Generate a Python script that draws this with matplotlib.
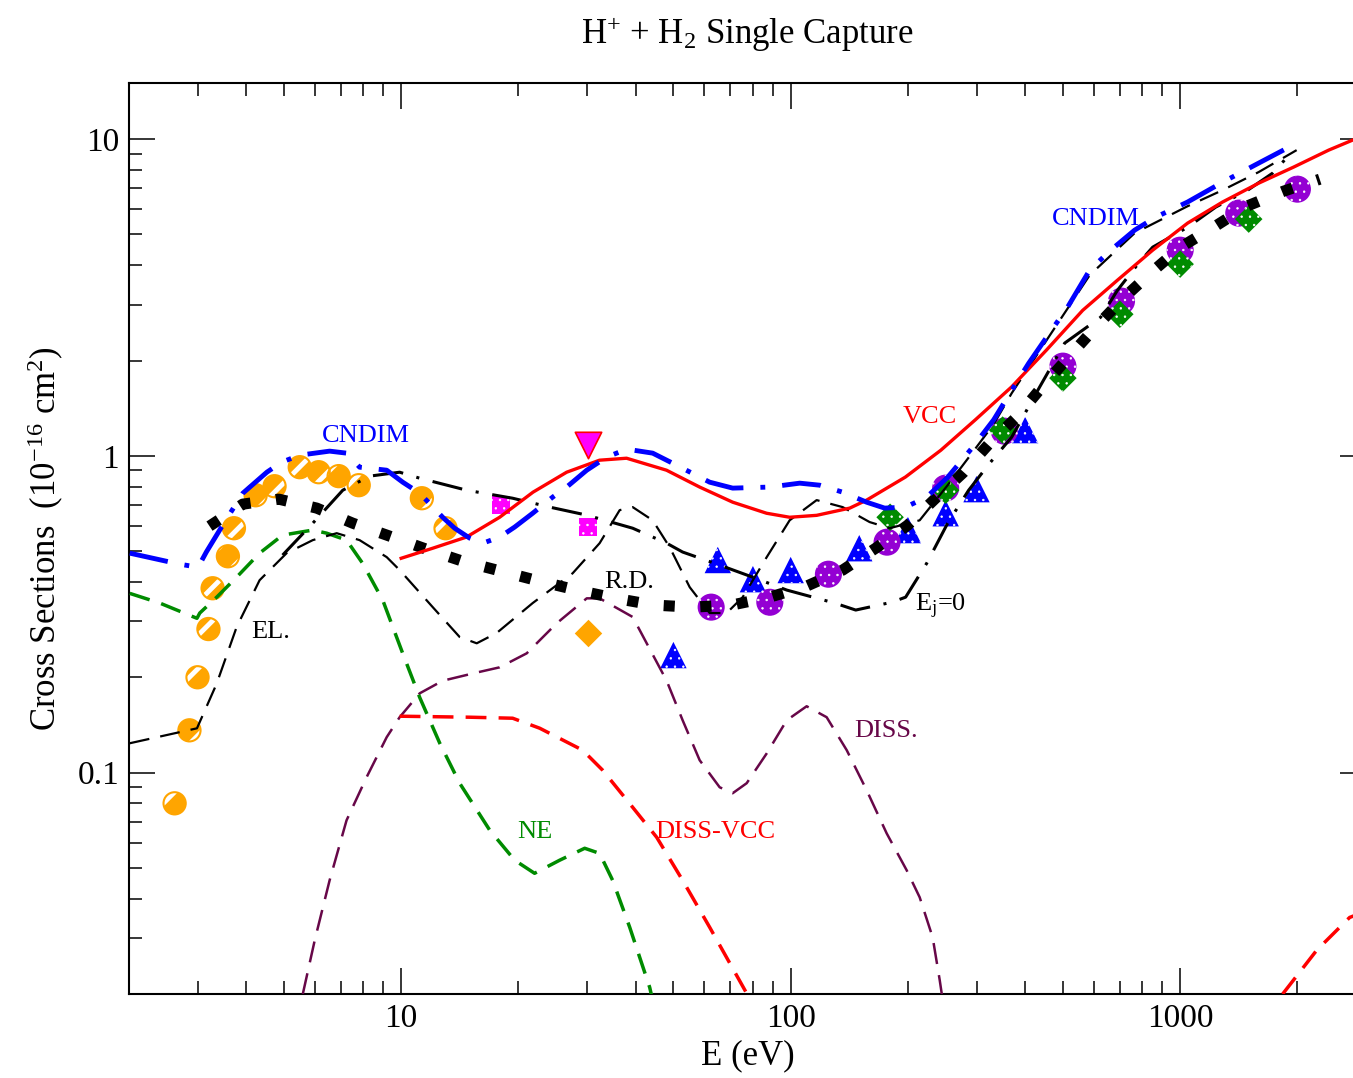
import matplotlib.pyplot as plt
from matplotlib.ticker import LogLocator, NullFormatter

plt.rcParams['font.family'] = ['Liberation Serif', 'DejaVu Serif']
plt.rcParams['mathtext.fontset'] = 'custom'
plt.rcParams['mathtext.rm'] = 'Liberation Serif'
plt.rcParams['mathtext.it'] = 'Liberation Serif:italic'
plt.rcParams['mathtext.bf'] = 'Liberation Serif:bold'

# --- theory curves (E in eV, sigma in 1e-16 cm^2) ---
vcc_E = [10.0, 12.05, 14.7, 17.9, 21.8, 26.6, 32.3, 37.9, 48.0, 58.4, 71.0, 86.7,
         99.4, 116.6, 141.8, 156.7, 197, 243, 298, 369, 454, 562, 691, 850, 1045,
         1285, 1591, 1956, 2406, 2773]
vcc_s = [0.475, 0.511, 0.554, 0.640, 0.768, 0.888, 0.969, 0.983, 0.901, 0.797, 0.714,
         0.659, 0.640, 0.649, 0.684, 0.725, 0.857, 1.042, 1.30, 1.65, 2.16, 2.88, 3.59,
         4.46, 5.43, 6.33, 7.26, 8.16, 9.23, 9.93]

cndim_E = [2.01, 2.70, 3.01, 3.16, 3.48, 3.92, 4.52, 4.93, 5.49, 6.55, 7.24, 7.82, 9.18,
           10.09, 11.16, 12.78, 13.72, 14.99, 16.19, 17.9, 19.56, 21.76, 24.49, 26.76,
           29.95, 33.69, 37.93, 44.23, 49.77, 61.94, 70.98, 88.3, 105.5, 118.7, 136,
           156.7, 174.3, 197.3, 223.5, 253, 293.3, 332.1, 369.4, 408.4, 454.2, 514.3,
           585.8, 663.2, 764.2, 865.5, 1045, 1285, 1591, 1991]
cndim_s = [0.493, 0.455, 0.445, 0.497, 0.604, 0.762, 0.888, 0.955, 1.005, 1.035, 1.020,
           0.921, 0.901, 0.826, 0.762, 0.640, 0.591, 0.550, 0.530, 0.554, 0.596, 0.659,
           0.741, 0.802, 0.901, 0.991, 1.050, 1.020, 0.948, 0.826, 0.791, 0.797, 0.820,
           0.808, 0.768, 0.714, 0.684, 0.689, 0.741, 0.856, 1.065, 1.30, 1.61, 1.96,
           2.37, 2.95, 3.86, 4.46, 5.16, 5.67, 6.33, 7.31, 8.40, 9.71]

ej0_E = [4.96, 5.93, 7.08, 8.30, 9.91, 11.16, 14.73, 19.33, 24.06, 29.95, 39.3, 48.04,
         52.8, 65.72, 79.9, 97.7, 129.7, 146.9, 181.7, 197.3, 223.5, 253, 286.4, 324.3,
         369.4, 435.8, 505.3, 625.1, 691.1, 782.5, 850.3, 1045, 1234, 1491, 1728, 1956]
ej0_s = [0.486, 0.613, 0.779, 0.863, 0.888, 0.850, 0.779, 0.735, 0.689, 0.650, 0.591,
         0.530, 0.497, 0.452, 0.414, 0.377, 0.343, 0.326, 0.345, 0.358, 0.458, 0.613,
         0.779, 0.948, 1.146, 1.65, 2.27, 2.74, 3.34, 4.06, 4.56, 5.27, 6.10, 6.90,
         7.81, 9.23]

el_E = [2.01, 2.99, 3.36, 3.78, 4.33, 5.08, 5.93, 6.83, 7.82, 9.18, 9.91, 12.05, 14.13,
        15.63, 17.59, 21.76, 27.56, 32.32, 36.39, 39.3, 44.23, 48.9, 55.05, 61.94, 68.5,
        75.3, 86.8, 99.4, 116.6, 136, 159.5, 179.6, 214.4, 253, 293.3, 332.1, 369.4,
        454.2, 585.8, 764.2, 1045, 1285, 1591, 1991]
el_s = [0.1238, 0.138, 0.191, 0.288, 0.405, 0.493, 0.542, 0.570, 0.542, 0.479, 0.436,
        0.333, 0.268, 0.256, 0.276, 0.343, 0.426, 0.530, 0.674, 0.689, 0.626, 0.515,
        0.385, 0.319, 0.319, 0.358, 0.479, 0.626, 0.725, 0.689, 0.618, 0.591, 0.626,
        0.808, 1.027, 1.259, 1.577, 2.32, 3.72, 5.05, 6.14, 6.90, 7.87, 9.23]

sq_E = [3.22, 3.92, 4.85, 6.07, 7.51, 9.34, 11.63, 14.38, 18.11, 22.68, 28.22, 35.54,
        44.49, 56.03, 70.55, 88.3, 109.9, 136, 165.3, 199.7, 235.7, 278.1, 324.3, 382.6,
        443.6, 517.4, 606.9, 711.9, 840.4, 1003, 1219, 1482, 1844, 2282]
sq_s = [0.600, 0.704, 0.730, 0.684, 0.613, 0.558, 0.507, 0.465, 0.432, 0.402, 0.377,
        0.355, 0.338, 0.333, 0.338, 0.358, 0.388, 0.436, 0.511, 0.604, 0.735, 0.888,
        1.097, 1.335, 1.66, 2.05, 2.55, 3.13, 3.78, 4.56, 5.27, 6.14, 6.85, 7.47]

ne_E = [2.01, 2.40, 2.99, 3.04, 3.36, 3.78, 4.33, 4.96, 5.49, 5.93, 6.44, 7.24, 7.96,
        8.97, 10.09, 11.16, 12.56, 14.13, 16.88, 19.56, 22.0, 25.52, 29.59, 32.32, 34.91,
        38.61, 43.45, 44.23]
ne_s = [0.368, 0.343, 0.307, 0.319, 0.358, 0.414, 0.493, 0.562, 0.574, 0.583, 0.570,
        0.542, 0.458, 0.350, 0.238, 0.1726, 0.1239, 0.0926, 0.0658, 0.0529, 0.0481,
        0.0529, 0.0577, 0.0556, 0.0457, 0.0325, 0.0210, 0.0191]

dvcc_E = [9.91, 14.99, 19.33, 22.68, 29.24, 32.9, 39.3, 45.29, 52.8, 61.94, 77.1, 79.4]
dvcc_s = [0.1507, 0.1496, 0.1485, 0.1381, 0.1177, 0.1018, 0.0777, 0.0625, 0.0457,
          0.0325, 0.0201, 0.0191]
dvcc_hi_E = [1833, 2242, 2724, 3000]
dvcc_hi_s = [0.0200, 0.0275, 0.0349, 0.0365]

diss_E = [5.59, 6.0, 6.55, 7.24, 8.15, 9.18, 9.91, 11.16, 12.78, 15.63, 17.9, 21.0,
          25.07, 29.95, 32.32, 39.3, 48.04, 52.8, 58.4, 65.72, 70.98, 77.1, 86.8, 97.7,
          109.9, 123.7, 139.3, 156.7, 176.4, 198.5, 214.4, 231.5, 241.4, 245.7]
diss_s = [0.0200, 0.0296, 0.0457, 0.0707, 0.0967, 0.1294, 0.1496, 0.178, 0.195, 0.207,
          0.215, 0.238, 0.296, 0.355, 0.355, 0.310, 0.195, 0.1463, 0.1094, 0.0899,
          0.0861, 0.0926, 0.115, 0.1463, 0.162, 0.1496, 0.1177, 0.088, 0.0643, 0.0492,
          0.0404, 0.0302, 0.0221, 0.0191]

# --- experimental points ---
orange_E = [2.62, 2.86, 3.0, 3.2, 3.28, 3.59, 3.72, 4.23, 4.73, 5.49, 6.14, 6.91, 7.78,
            11.3, 13.0]
orange_s = [0.080, 0.136, 0.200, 0.284, 0.382, 0.482, 0.591, 0.751, 0.802, 0.921, 0.888,
            0.863, 0.808, 0.735, 0.591]
magsq_E = [18.0, 30.1]
magsq_s = [0.699, 0.596]
tridown_E = [30.1]
tridown_s = [1.081]
odiam_E = [30.1]
odiam_s = [0.276]
btri_E = [50, 65, 80, 100, 150, 200, 250, 300, 400]
btri_s = [0.235, 0.469, 0.408, 0.436, 0.511, 0.583, 0.659, 0.785, 1.206]
pcirc_E = [62.5, 88.4, 125, 176.8, 250, 353.6, 500, 707, 1000, 1414, 2000]
pcirc_s = [0.333, 0.345, 0.423, 0.534, 0.791, 1.197, 1.92, 3.08, 4.46, 5.84, 6.95]
gdiam_E = [180, 250, 350, 500, 700, 1000, 1500]
gdiam_s = [0.640, 0.779, 1.206, 1.76, 2.80, 4.03, 5.59]

fig = plt.figure(figsize=(13.53, 10.78), dpi=100)
ax = fig.add_axes([0.0953, 0.0779, 0.9143, 0.8448])
ax.set_xscale('log')
ax.set_yscale('log')
ax.set_xlim(2, 3000)
ax.set_ylim(0.02, 15)


def patterned(x, y, marker, size, color, hatch='..', hlw=0.5, z=2):
    with plt.rc_context({'hatch.linewidth': hlw}):
        ax.scatter(x, y, s=size ** 2, marker=marker, facecolor=color,
                   edgecolor='white', linewidths=0, hatch=hatch, zorder=z)


patterned(orange_E, orange_s, 'o', 16, '#ffa500', hatch='/', hlw=3.5)
ax.scatter(orange_E, orange_s, s=16 ** 2, marker='o', facecolor='none',
           edgecolor='#ffa500', linewidths=1.5, zorder=2)
patterned(magsq_E, magsq_s, 's', 13, '#ff00ff')
ax.scatter(tridown_E, tridown_s, s=19 ** 2, marker='v', facecolor='#ff00ff',
           edgecolor='#ff0000', linewidths=1.2, zorder=2)
ax.scatter(odiam_E, odiam_s, s=14 ** 2, marker='D', facecolor='#ffa500',
           edgecolor='#ffa500', linewidths=0, zorder=2)
patterned(btri_E, btri_s, '^', 19, '#0000ff')
patterned(pcirc_E, pcirc_s, 'o', 19.5, '#9400d3')
patterned(gdiam_E, gdiam_s, 'D', 14, '#008b00')

ax.plot(diss_E, diss_s, color='#670748', lw=1.8, ls=(0, (8.5, 4.5)), zorder=3)
ax.plot(dvcc_E, dvcc_s, color='#ff0000', lw=2.5, ls=(0, (6, 3.5)), zorder=3)
ax.plot(dvcc_hi_E, dvcc_hi_s, color='#ff0000', lw=2.5, ls=(0, (6, 3.5)), zorder=3)
ax.plot(ne_E, ne_s, color='#008b00', lw=2.5, ls=(0, (6, 3.5)), zorder=3)
ax.plot(el_E, el_s, color='black', lw=1.6, ls=(0, (9, 5)), zorder=3)
ax.plot(sq_E, sq_s, color='black', lw=8.0, ls=(0, (1, 2.3)),
        dash_capstyle='butt', zorder=3)
ax.plot(ej0_E, ej0_s, color='black', lw=2.2, ls=(0, (10, 4.5, 1, 4.5)), zorder=3)
ax.plot(vcc_E, vcc_s, color='#ff0000', lw=2.4, zorder=4)
ax.plot(cndim_E, cndim_s, color='#0000ff', lw=3.5, ls=(0, (8, 3.5, 1, 3.5)), zorder=4)

# curve labels
lab = dict(fontsize=19, ha='left', va='center')
ax.text(6.25, 1.154, 'CNDIM', color='#0000ff', **lab)
ax.text(467.7, 5.59, 'CNDIM', color='#0000ff', **lab)
ax.text(193.9, 1.325, 'VCC', color='#ff0000', **lab)
ax.text(4.11, 0.2775, 'EL.', color='black', **lab)
ax.text(33.3, 0.399, 'R.D.', color='black', **lab)
ax.text(208.2, 0.335, r'E$_\mathrm{j}$=0', color='black', **lab)
ax.text(146, 0.135, 'DISS.', color='#670748', **lab)
ax.text(19.8, 0.0648, 'NE', color='#008b00', **lab)
ax.text(44.8, 0.0648, 'DISS-VCC', color='#ff0000', **lab)

# axes cosmetics
ax.set_xticks([10, 100, 1000], labels=['10', '100', '1000'])
ax.set_yticks([0.1, 1, 10], labels=['0.1', '1', '10'])
ax.xaxis.set_minor_locator(LogLocator(base=10, subs=range(2, 10), numticks=20))
ax.yaxis.set_minor_locator(LogLocator(base=10, subs=range(2, 10), numticks=20))
ax.xaxis.set_minor_formatter(NullFormatter())
ax.yaxis.set_minor_formatter(NullFormatter())
ax.tick_params(which='both', direction='in', top=True, right=True, width=1.1,
               labelsize=24)
ax.tick_params(which='major', length=18.7, pad=7)
ax.tick_params(which='minor', length=9.4)
for sp in ax.spines.values():
    sp.set_linewidth(1.5)

ax.set_xlabel('E (eV)', fontsize=25, labelpad=4)
ax.set_ylabel(r'Cross Sections  (10$^{-16}$ cm$^{2}$)', fontsize=25, labelpad=8)
fig.text(0.5525, 0.968, r'H$^{+}$ + H$_{2}$ Single Capture', fontsize=25,
         ha='center', va='center')

fig.savefig('out.png', dpi=100)
